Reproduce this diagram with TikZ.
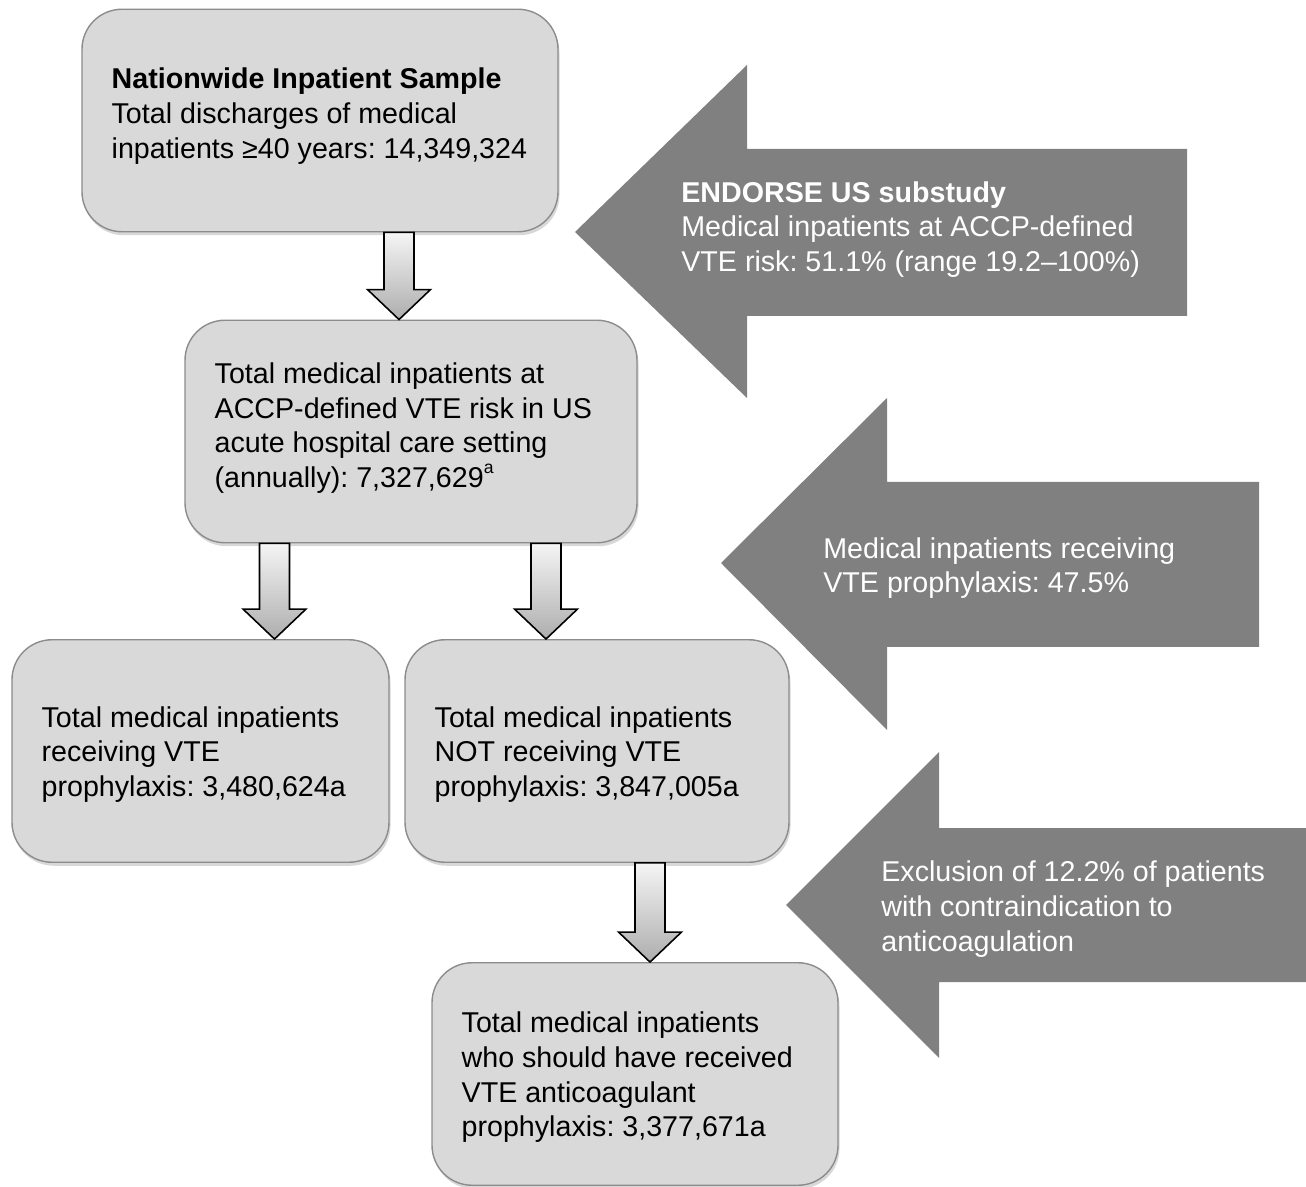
\documentclass[tikz,border=0pt]{standalone}
\usepackage{fontspec}
\setmainfont{Liberation Sans}
\usetikzlibrary{positioning,calc,shadows}
\frenchspacing

% block arrow between two boxes: #1 upper end, #2 tip
\newcommand{\flowdown}[2]{%
  \path[flowarrow] ($(#1)+(-.30,0)$) -- ($(#2)+(-.30,.60)$) -- ($(#2)+(-.63,.60)$)
    -- (#2) -- ($(#2)+(.63,.60)$) -- ($(#2)+(.30,.60)$) -- ($(#1)+(.30,0)$) -- cycle;}

\begin{document}
\begin{tikzpicture}[
  font=\fontsize{16.3}{19.7}\selectfont,
  box/.style={draw=black!45, line width=.8pt, fill=black!15, rounded corners=.8cm,
    minimum height=4.45cm,
    drop shadow={shadow xshift=.03cm, shadow yshift=-.07cm, fill=black!30, opacity=.5}},
  boxtext/.style={align=left, inner sep=0pt, text=black},
  flowarrow/.style={draw=black, line width=.9pt, line join=miter,
    top color=black!4, bottom color=black!32},
  bigarrow/.style={fill=black!50},
  bigtext/.style={align=left, inner sep=0pt, text=white, anchor=west}
]
  \useasboundingbox (0,0) rectangle (26.12,-23.74);

  % Big grey arrows with the study figures.
  \path[bigarrow] (11.50,-4.64) -- (14.94,-1.30) -- (14.94,-2.98) -- (23.74,-2.98)
    -- (23.74,-6.32) -- (14.94,-6.32) -- (14.94,-7.96) -- cycle;
  \node[bigtext] (endorse) at (13.62,-4.59)
    {\textbf{ENDORSE US substudy}\\Medical inpatients at ACCP-defined\\VTE risk: 51.1\% (range 19.2--100\%)};

  \path[bigarrow] (14.42,-11.26) -- (17.74,-7.96) -- (17.74,-9.64) -- (25.18,-9.64)
    -- (25.18,-12.94) -- (17.74,-12.94) -- (17.74,-14.60) -- cycle;
  \node[bigtext] (receiving) at (16.46,-11.36)
    {Medical inpatients receiving\\VTE prophylaxis: 47.5\%};

  \path[bigarrow] (15.72,-18.10) -- (18.78,-15.04) -- (18.78,-16.56) -- (26.12,-16.56)
    -- (26.12,-19.64) -- (18.78,-19.64) -- (18.78,-21.16) -- cycle;
  \node[bigtext] (exclusion) at (17.62,-18.18)
    {Exclusion of 12.2\% of patients\\with contraindication to\\anticoagulation};

  % Flow boxes.
  \node[box, minimum width=9.52cm] (sample) at (6.40,-2.41) {};
  \node[boxtext, right=.6cm of sample.west, yshift=.09cm] (sampletxt)
    {\textbf{Nationwide Inpatient Sample}\\Total discharges of medical\\inpatients ≥40 years: 14,349,324};

  \node[box, minimum width=9.04cm] (risk) at (8.22,-8.63) {};
  \node[boxtext, right=.6cm of risk.west, yshift=.07cm] (risktxt)
    {Total medical inpatients at\\ACCP-defined VTE risk in US\\acute hospital care setting\\(annually): 7,327,629\raisebox{.5em}{\fontsize{10}{10}\selectfont a}};

  \node[box, minimum width=7.54cm] (given) at (4.01,-15.02) {};
  \node[boxtext, right=.6cm of given.west, yshift=-.07cm] (giventxt)
    {Total medical inpatients\\receiving VTE\\prophylaxis: 3,480,624a};

  \node[box, minimum width=7.68cm] (notgiven) at (11.94,-15.02) {};
  \node[boxtext, right=.6cm of notgiven.west, yshift=-.07cm] (notgiventxt)
    {Total medical inpatients\\NOT receiving VTE\\prophylaxis: 3,847,005a};

  \node[box, minimum width=8.12cm] (eligible) at (12.70,-21.48) {};
  \node[boxtext, right=.6cm of eligible.west, yshift=-.07cm] (eligibletxt)
    {Total medical inpatients\\who should have received\\VTE anticoagulant\\prophylaxis: 3,377,671a};

  % Downward block arrows.
  \coordinate (c1) at (7.98,0);
  \coordinate (c2) at (5.49,0);
  \coordinate (c3) at (10.92,0);
  \coordinate (c4) at (13.00,0);
  \flowdown{c1 |- sample.south}{c1 |- risk.north}
  \flowdown{c2 |- risk.south}{c2 |- given.north}
  \flowdown{c3 |- risk.south}{c3 |- notgiven.north}
  \flowdown{c4 |- notgiven.south}{c4 |- eligible.north}
\end{tikzpicture}
\end{document}
